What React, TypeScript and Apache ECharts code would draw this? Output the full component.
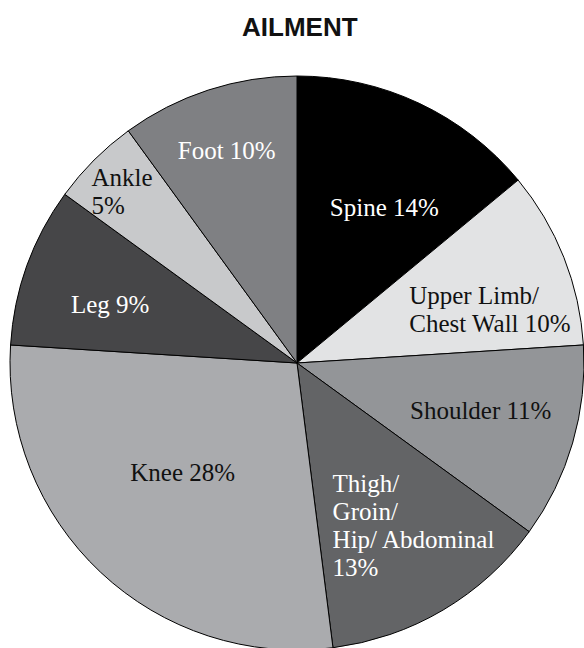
import React, { useEffect, useRef } from "react";
import * as echarts from "echarts";

const titleText = "AILMENT";
const categories = [
  "Spine",
  "Upper Limb/\nChest Wall",
  "Shoulder",
  "Thigh/\nGroin/\nHip/ Abdominal",
  "Knee",
  "Leg",
  "Ankle",
  "Foot",
];
const values = [14, 10, 11, 13, 28, 9, 5, 10];
const valueOnNewLine = [false, false, false, true, false, false, true, false];
const sliceColors = ["#000000", "#e2e3e4", "#939598", "#636466", "#aaabae", "#464648", "#c8c9cb", "#7f8083"];
const labelColors = ["#ffffff", "#111111", "#111111", "#ffffff", "#111111", "#ffffff", "#111111", "#ffffff"];
const labelAligns = ["center", "left", "center", "left", "center", "center", "left", "center"];
const labelShift: [number, number][] = [
  [25, -23],
  [-24, 0],
  [43, 7],
  [-39, 36],
  [-14, 3],
  [-49, -9],
  [-102, -68],
  [-25, -73],
];

export default function App() {
  const ref = useRef<HTMLDivElement>(null);
  useEffect(() => {
    document.body.style.margin = "0";
    if (!ref.current) return;
    const chart = echarts.init(ref.current, undefined, { renderer: "svg" });
    chart.setOption({
      animation: false,
      backgroundColor: "#ffffff",
      title: {
        text: titleText,
        left: 237,
        top: 9,
        textStyle: {
          fontFamily: "Liberation Sans",
          fontWeight: "bold",
          fontSize: 26,
          color: "#111111",
        },
      },
      series: [
        {
          type: "pie",
          center: [297, 363],
          radius: 287,
          startAngle: 90,
          clockwise: true,
          avoidLabelOverlap: false,
          itemStyle: { borderColor: "#000000", borderWidth: 1 },
          label: {
            show: true,
            position: "inside",
            fontFamily: "Liberation Serif",
            fontSize: 25,
            lineHeight: 28,
            formatter: (p: any) =>
              p.name + (valueOnNewLine[p.dataIndex] ? "\n" : " ") + p.value + "%",
          },
          labelLine: { show: false },
          labelLayout: (p: any) => ({
            dx: labelShift[p.dataIndex][0],
            dy: labelShift[p.dataIndex][1],
            align: labelAligns[p.dataIndex],
          }),
          emphasis: { disabled: true },
          data: categories.map((name, i) => ({
            name,
            value: values[i],
            itemStyle: { color: sliceColors[i] },
            label: { color: labelColors[i] },
          })),
        },
      ],
    });
    return () => chart.dispose();
  }, []);
  return <div ref={ref} style={{ width: 584, height: 648 }} />;
}
